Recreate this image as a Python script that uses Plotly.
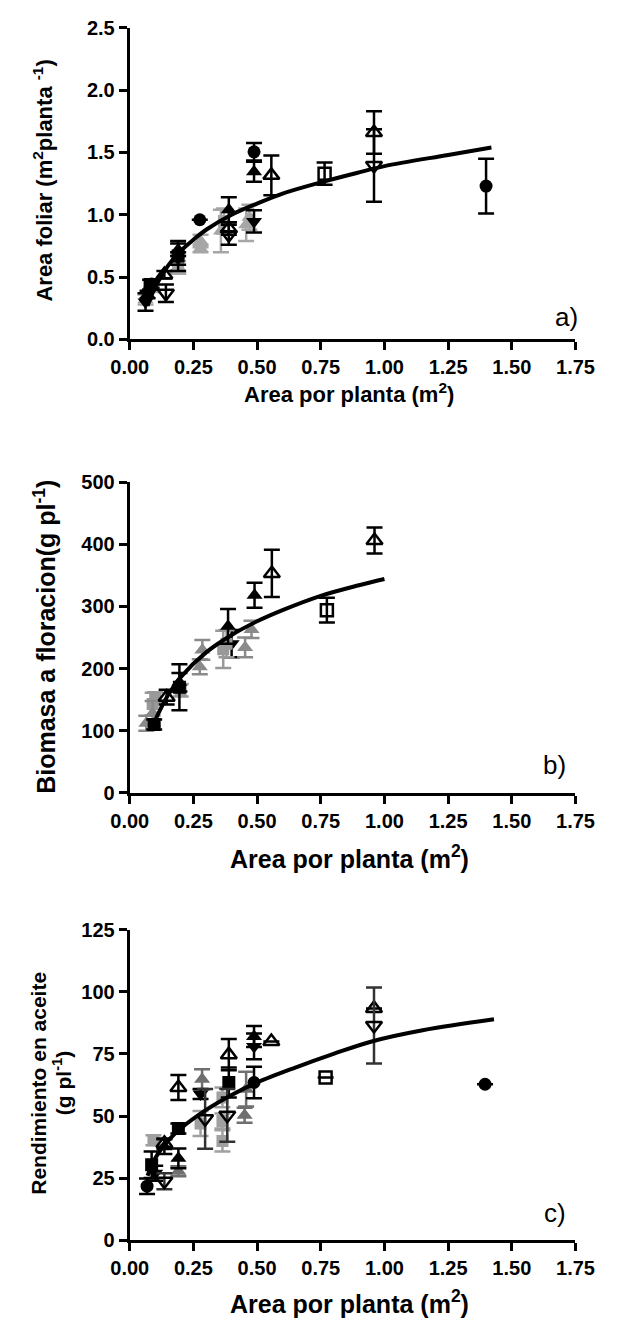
import plotly.graph_objects as go

W, H = 617, 1333

# ---------------- Panel a: leaf area per plant ----------------
a_circle_x = [0.086, 0.275, 0.488, 1.399]
a_circle_y = [0.445, 0.96, 1.505, 1.23]
a_circle_e = [0.03, 0.0, 0.07, 0.22]

a_triup_x = [0.07, 0.19, 0.389, 0.488]
a_triup_y = [0.36, 0.72, 1.04, 1.345]
a_triup_e = [0.03, 0.05, 0.10, 0.08]

a_tridn_x = [0.062, 0.19, 0.488]
a_tridn_y = [0.30, 0.65, 0.947]
a_tridn_e = [0.07, 0.05, 0.09]

a_square_x = [0.08, 0.19]
a_square_y = [0.44, 0.67]
a_square_e = [0.04, 0.12]

a_triup_open_x = [0.136, 0.389, 0.556, 0.959]
a_triup_open_y = [0.52, 0.89, 1.316, 1.66]
a_triup_open_e = [0.03, 0.05, 0.16, 0.17]

a_tridn_open_x = [0.142, 0.389, 0.959]
a_tridn_open_y = [0.37, 0.84, 1.395]
a_tridn_open_e = [0.07, 0.08, 0.29]

a_square_open_x = [0.765]
a_square_open_y = [1.33]
a_square_open_e = [0.09]

a_grey_tri_x = [0.062, 0.19, 0.278, 0.278, 0.358, 0.457, 0.47]
a_grey_tri_y = [0.32, 0.58, 0.79, 0.73, 0.87, 0.92, 0.98]
a_grey_tri_e = [0.04, 0.05, 0.05, 0.03, 0.17, 0.13, 0.10]

a_grey_sq_x = [0.09, 0.19, 0.37]
a_grey_sq_y = [0.43, 0.60, 0.95]
a_grey_sq_e = [0.05, 0.07, 0.10]

a_fit_x = [0.07, 0.1, 0.15, 0.2, 0.25, 0.3, 0.4, 0.5, 0.6, 0.75, 0.9, 1.0, 1.25, 1.42]
a_fit_y = [0.27, 0.42, 0.59, 0.71, 0.80, 0.88, 1.00, 1.09, 1.17, 1.26, 1.34, 1.39, 1.48, 1.54]

# ---------------- Panel b: biomass at flowering ----------------
b_square_x = [0.096, 0.195]
b_square_y = [110, 170]
b_square_e = [8, 37]

b_triup_x = [0.195, 0.386, 0.49]
b_triup_y = [178, 268, 318]
b_triup_e = [15, 28, 20]

b_tridn_x = [0.40]
b_tridn_y = [240]
b_tridn_e = [22]

b_triup_open_x = [0.145, 0.558, 0.961]
b_triup_open_y = [154, 353, 406]
b_triup_open_e = [12, 38, 21]

b_square_open_x = [0.774]
b_square_open_y = [294]
b_square_open_e = [20]

b_grey_tri_x = [0.065, 0.09, 0.275, 0.285, 0.453, 0.478]
b_grey_tri_y = [112, 128, 203, 230, 234, 263]
b_grey_tri_e = [12, 20, 12, 16, 16, 14]

b_grey_sq_x = [0.09, 0.10, 0.20, 0.367, 0.38]
b_grey_sq_y = [143, 154, 165, 231, 240]
b_grey_sq_e = [18, 8, 10, 30, 22]

b_fit_x = [0.1, 0.15, 0.2, 0.3, 0.4, 0.5, 0.6, 0.75, 0.9, 1.0]
b_fit_y = [117, 157, 186, 226, 254, 276, 294, 317, 334, 344]

# ---------------- Panel c: oil yield ----------------
c_circle_x = [0.068, 0.488, 1.395]
c_circle_y = [21.8, 63.5, 62.8]
c_circle_e = [3.1, 6.3, 0]

c_triup_x = [0.136, 0.191, 0.488]
c_triup_y = [37.7, 33.0, 82.0]
c_triup_e = [3, 4, 4.2]

c_tridn_x = [0.10, 0.278, 0.488]
c_tridn_y = [27.0, 58.9, 78.0]
c_tridn_e = [3, 2, 5.2]

c_square_x = [0.086, 0.191, 0.389]
c_square_y = [30.4, 45.0, 63.5]
c_square_e = [5.3, 2, 6]

c_triup_open_x = [0.136, 0.191, 0.389, 0.556, 0.959]
c_triup_open_y = [39.0, 61.5, 74.7, 80.0, 93.3]
c_triup_open_e = [2, 5, 6.3, 0, 0]

c_tridn_open_x = [0.136, 0.296, 0.383, 0.959]
c_tridn_open_y = [23.8, 48.9, 50.3, 86.4]
c_tridn_open_e = [3.2, 12, 10.6, 15.3]

c_square_open_x = [0.769]
c_square_open_y = [65.5]
c_square_open_e = [0]

c_grey_sq_x = [0.093, 0.278, 0.364, 0.364, 0.364]
c_grey_sq_y = [40.3, 47.0, 57.5, 48.0, 40.0]
c_grey_sq_e = [2, 5, 4, 3, 4.3]

c_grey_tri_x = [0.191, 0.284, 0.451, 0.457]
c_grey_tri_y = [27.8, 64.8, 50.3, 60.8]
c_grey_tri_e = [2, 4, 3, 7]

c_fit_x = [0.07, 0.1, 0.15, 0.2, 0.3, 0.4, 0.5, 0.65, 0.8, 0.95, 1.15, 1.43]
c_fit_y = [26, 33, 40, 45, 52.5, 58.5, 63.5, 69.5, 75, 80, 84.5, 88.9]

x_tickvals = [0, 0.25, 0.5, 0.75, 1.0, 1.25, 1.5, 1.75]
x_ticktext = ["0.00", "0.25", "0.50", "0.75", "1.00", "1.25", "1.50", "1.75"]
a_tickvals = [0, 0.5, 1.0, 1.5, 2.0, 2.5]
a_ticktext = ["0.0", "0.5", "1.0", "1.5", "2.0", "2.5"]
b_tickvals = [0, 100, 200, 300, 400, 500]
c_tickvals = [0, 25, 50, 75, 100, 125]

FONT = "Liberation Sans, Arial, sans-serif"
BLACK = "#000000"


def px_x(p):
    return p / W


def px_y(p):
    return 1 - p / H


fig = go.Figure()


def add_series(xs, ys, es, axis, symbol, color, size=14, bar_color=None, open_marker=False):
    xa, ya = axis
    marker = dict(symbol=symbol, size=size, color=color)
    marker["line"] = dict(width=2.5 if open_marker else 0, color=color)
    fig.add_trace(go.Scatter(
        x=xs, y=ys, mode="markers", xaxis=xa, yaxis=ya,
        marker=marker, showlegend=False, hoverinfo="skip",
        error_y=dict(type="data", array=es, visible=True,
                     color=bar_color or color, thickness=2.5, width=8),
    ))


def add_fit(xs, ys, axis):
    xa, ya = axis
    fig.add_trace(go.Scatter(
        x=xs, y=ys, mode="lines", xaxis=xa, yaxis=ya,
        line=dict(color=BLACK, width=4, shape="spline"),
        showlegend=False, hoverinfo="skip",
    ))


AX_A = ("x", "y")
AX_B = ("x2", "y2")
AX_C = ("x3", "y3")

# panel a
add_series(a_grey_sq_x, a_grey_sq_y, a_grey_sq_e, AX_A, "square", "#a6a6a6", 12)
add_series(a_grey_tri_x, a_grey_tri_y, a_grey_tri_e, AX_A, "triangle-up", "#a6a6a6")
add_series(a_square_x, a_square_y, a_square_e, AX_A, "square", BLACK, 13)
add_series(a_tridn_x, a_tridn_y, a_tridn_e, AX_A, "triangle-down", BLACK)
add_series(a_triup_x, a_triup_y, a_triup_e, AX_A, "triangle-up", BLACK)
add_series(a_circle_x, a_circle_y, a_circle_e, AX_A, "circle", BLACK, 13)
add_series(a_triup_open_x, a_triup_open_y, a_triup_open_e, AX_A, "triangle-up-open", BLACK, open_marker=True)
add_series(a_tridn_open_x, a_tridn_open_y, a_tridn_open_e, AX_A, "triangle-down-open", BLACK, open_marker=True)
add_series(a_square_open_x, a_square_open_y, a_square_open_e, AX_A, "square-open", BLACK, 12, open_marker=True)
add_fit(a_fit_x, a_fit_y, AX_A)

# panel b
add_series(b_tridn_x, b_tridn_y, b_tridn_e, AX_B, "triangle-down", BLACK)
add_series(b_grey_sq_x, b_grey_sq_y, b_grey_sq_e, AX_B, "square", "#999999", 12)
add_series(b_grey_tri_x, b_grey_tri_y, b_grey_tri_e, AX_B, "triangle-up", "#8a8a8a")
add_series(b_square_x, b_square_y, b_square_e, AX_B, "square", BLACK, 13)
add_series(b_triup_x, b_triup_y, b_triup_e, AX_B, "triangle-up", BLACK)
add_series(b_triup_open_x, b_triup_open_y, b_triup_open_e, AX_B, "triangle-up-open", BLACK, open_marker=True)
add_series(b_square_open_x, b_square_open_y, b_square_open_e, AX_B, "square-open", BLACK, 12, open_marker=True)
add_fit(b_fit_x, b_fit_y, AX_B)

# panel c
add_series(c_grey_sq_x, c_grey_sq_y, c_grey_sq_e, AX_C, "square", "#a0a0a0", 12)
add_series(c_grey_tri_x, c_grey_tri_y, c_grey_tri_e, AX_C, "triangle-up", "#6f6f6f")
add_series(c_square_x, c_square_y, c_square_e, AX_C, "square", BLACK, 13)
add_series(c_tridn_x, c_tridn_y, c_tridn_e, AX_C, "triangle-down", BLACK)
add_series(c_triup_x, c_triup_y, c_triup_e, AX_C, "triangle-up", BLACK)
add_series(c_circle_x, c_circle_y, c_circle_e, AX_C, "circle", BLACK, 13)
add_series(c_triup_open_x, c_triup_open_y, c_triup_open_e, AX_C, "triangle-up-open", BLACK, open_marker=True)
add_series(c_tridn_open_x, c_tridn_open_y, c_tridn_open_e, AX_C, "triangle-down-open", BLACK,
           bar_color="#333333", open_marker=True)
add_series(c_square_open_x, c_square_open_y, c_square_open_e, AX_C, "square-open", BLACK, 12, open_marker=True)
add_fit(c_fit_x, c_fit_y, AX_C)

tick_font = dict(family=FONT, size=20, color=BLACK, weight="bold")
x_dom = [px_x(118), px_x(593)]


def xaxis_cfg(anchor):
    return dict(domain=x_dom, anchor=anchor, range=[0, 1.75], tickvals=x_tickvals, ticktext=x_ticktext,
                showline=True, linewidth=3, linecolor=BLACK, ticks="outside", ticklen=8, tickwidth=3,
                tickcolor=BLACK, showgrid=False, zeroline=False, tickfont=tick_font)


def yaxis_cfg(anchor, top, bottom, rng, vals, text=None):
    return dict(domain=[px_y(bottom), px_y(top)], anchor=anchor, range=rng, tickvals=vals,
                ticktext=text or [str(v) for v in vals],
                showline=True, linewidth=3, linecolor=BLACK, ticks="outside", ticklen=8, tickwidth=3,
                tickcolor=BLACK, showgrid=False, zeroline=False, tickfont=tick_font)


annotations = [
    dict(text="<b>Area foliar (m<sup>2</sup>planta <sup>-1</sup>)</b>", x=px_x(26), y=px_y(172),
         textangle=-90, font=dict(family=FONT, size=22, color=BLACK)),
    dict(text="<b>Area por planta (m<sup>2</sup>)</b>", x=px_x(352), y=px_y(388),
         font=dict(family=FONT, size=22, color=BLACK)),
    dict(text="a)", x=px_x(583), y=px_y(311), font=dict(family=FONT, size=26, color=BLACK)),

    dict(text="<b>Biomasa a floracion(g pl<sup>-1</sup>)</b>", x=px_x(27), y=px_y(636),
         textangle=-90, font=dict(family=FONT, size=25, color=BLACK)),
    dict(text="<b>Area por planta (m<sup>2</sup>)</b>", x=px_x(352), y=px_y(860),
         font=dict(family=FONT, size=25, color=BLACK)),
    dict(text="b)", x=px_x(571), y=px_y(767), font=dict(family=FONT, size=26, color=BLACK)),

    dict(text="<b>Rendimiento en aceite</b>", x=px_x(20), y=px_y(1090),
         textangle=-90, font=dict(family=FONT, size=21, color=BLACK)),
    dict(text="<b>(g pl<sup>-1</sup>)</b>", x=px_x(46), y=px_y(1090),
         textangle=-90, font=dict(family=FONT, size=21, color=BLACK)),
    dict(text="<b>Area por planta (m<sup>2</sup>)</b>", x=px_x(352), y=px_y(1313),
         font=dict(family=FONT, size=25, color=BLACK)),
    dict(text="c)", x=px_x(571), y=px_y(1222), font=dict(family=FONT, size=26, color=BLACK)),
]
for ann in annotations:
    ann.update(xref="paper", yref="paper", showarrow=False, xanchor="center", yanchor="middle")

fig.update_layout(
    width=W, height=H,
    margin=dict(l=0, r=0, t=0, b=0),
    paper_bgcolor="white", plot_bgcolor="white",
    font=dict(family=FONT, color=BLACK),
    xaxis=xaxis_cfg("y"),
    yaxis=yaxis_cfg("x", 17, 334, [0, 2.5], a_tickvals, a_ticktext),
    xaxis2=xaxis_cfg("y2"),
    yaxis2=yaxis_cfg("x2", 479, 795, [0, 500], b_tickvals),
    xaxis3=xaxis_cfg("y3"),
    yaxis3=yaxis_cfg("x3", 934, 1250, [0, 125], c_tickvals),
    annotations=annotations,
)

fig.write_html("out.html")
